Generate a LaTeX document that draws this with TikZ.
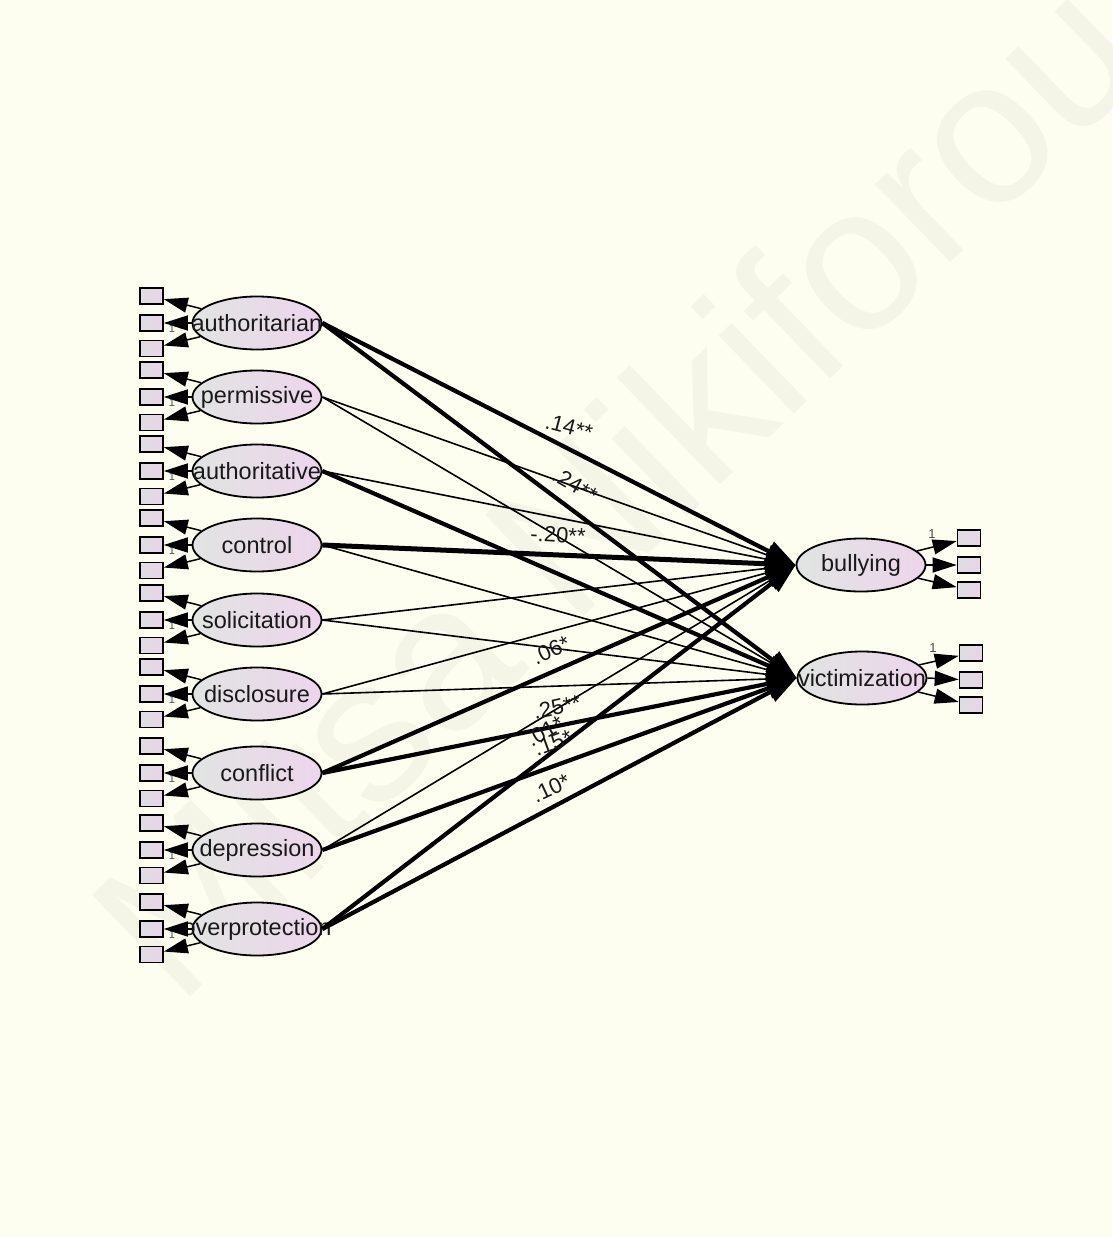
\documentclass[tikz,border=0pt]{standalone}
\usepackage{fontspec}
\setmainfont{Liberation Sans}
\usetikzlibrary{shapes.geometric,arrows.meta}
\definecolor{bg}{RGB}{253,254,240}
\definecolor{elL}{RGB}{225,228,226}
\definecolor{elR}{RGB}{237,213,236}
\definecolor{bxL}{RGB}{222,222,226}
\definecolor{bxR}{RGB}{234,212,232}
\definecolor{wm}{RGB}{244,245,231}
\begin{document}
\begin{tikzpicture}[x=1pt,y=-1pt,
  lat/.style={ellipse, draw=black, line width=1.8pt, minimum width=129pt, minimum height=53pt, inner sep=0pt, left color=elL, right color=elR},
  obs/.style={rectangle, draw=black, line width=1.6pt, minimum width=23pt, minimum height=16pt, inner sep=0pt, left color=bxL, right color=bxR},
  lbl/.style={font=\fontsize{23.5}{26}\selectfont, text=black!90, inner sep=0pt},
  ind/.style={line width=1.5pt, -{Triangle[length=24pt,width=15pt]}},
  pth/.style={-{Triangle[length=30pt,width=21pt]}},
  pthin/.style={pth, line width=1.6pt},
  pthick/.style={pth, line width=4.2pt},
  coef/.style={font=\fontsize{22}{24}\selectfont, inner sep=0pt, text=black!90},
  one/.style={font=\fontsize{11}{12}\selectfont, text=black!70, inner sep=0pt}]
\useasboundingbox[fill=bg] (0,0) rectangle (1112,1237);
% watermark
\node[rotate=44, text=wm, font=\fontsize{205}{205}\selectfont] (wmk) at (615,485) {Mitsa Nikiforou};
% left latent variables
\foreach \n/\t/\y in {au/authoritarian/323, pe/permissive/397, at/authoritative/471, co/control/545, so/solicitation/620, di/disclosure/694, cf/conflict/773, de/depression/850, ov/overprotection/929} {
  \node[lat] (\n) at (257,\y) {};
  \node[obs] (\n1) at (151.5,\y-27) {};
  \node[obs] (\n2) at (151.5,\y) {};
  \node[obs] (\n3) at (151.5,\y+25.5) {};
  \node[lbl] (\n t) at (257,\y) {\t};
  \node[one] (\n o) at (172,\y+6) {1};
  \draw[ind] (\n) -- (\n1);
  \draw[ind] (\n.west) -- (\n2);
  \draw[ind] (\n) -- (\n3);
}
% right latent variables
\node[lat] (bu) at (861,565) {};
\node[lat] (vi) at (862,678) {};
\node[obs] (bu1) at (969,538) {};
\node[obs] (bu2) at (969,565) {};
\node[obs] (bu3) at (969,590) {};
\node[obs] (vi1) at (971,653) {};
\node[obs] (vi2) at (971,680) {};
\node[obs] (vi3) at (971,705) {};
\node[lbl] (but) at (861,565) {bullying};
\node[lbl] (vit) at (862,678) {victimization};
\node[one, font=\fontsize{13}{14}\selectfont] (buo) at (932,534) {1};
\node[one, font=\fontsize{13}{14}\selectfont] (vio) at (933,648) {1};
\foreach \a in {bu,vi} {
  \draw[ind] (\a) -- (\a1);
  \draw[ind] (\a.east) -- (\a2);
  \draw[ind] (\a) -- (\a3);
}
% structural paths
\draw[pthick] (au.east) -- (bu.west);
\draw[pthick] (au.east) -- (vi.west);
\draw[pthin] (pe.east) -- (bu.west);
\draw[pthin] (pe.east) -- (vi.west);
\draw[pthin] (at.east) -- (bu.west);
\draw[pthick] (at.east) -- (vi.west);
\draw[pth, line width=5pt] (co.east) -- (bu.west);
\draw[pthin] (co.east) -- (vi.west);
\draw[pthin] (so.east) -- (bu.west);
\draw[pthin] (so.east) -- (vi.west);
\draw[pthin] (di.east) -- (bu.west);
\draw[pthin] (di.east) -- (vi.west);
\draw[pthick] (cf.east) -- (bu.west);
\draw[pthick] (cf.east) -- (vi.west);
\draw[pthin] (de.east) -- (bu.west);
\draw[pthick] (de.east) -- (vi.west);
\draw[pthick] (ov.east) -- (bu.west);
\draw[pthick] (ov.east) -- (vi.west);
% coefficients
\node[coef, rotate=-15] (c1) at (569,427) {.14**};
\node[coef, rotate=-30] (c2) at (575,485) {.24**};
\node[coef, rotate=-3] (c3) at (558,535) {-.20**};
\node[coef, rotate=25] (c4) at (551,650) {.06*};
\node[coef, rotate=12] (c5) at (557,707) {.25**};
\node[coef, rotate=30] (c6) at (545,731) {.01*};
\node[coef, rotate=20] (c7) at (553,743) {.15*};
\node[coef, rotate=25] (c8) at (551,788) {.10*};
\end{tikzpicture}
\end{document}
